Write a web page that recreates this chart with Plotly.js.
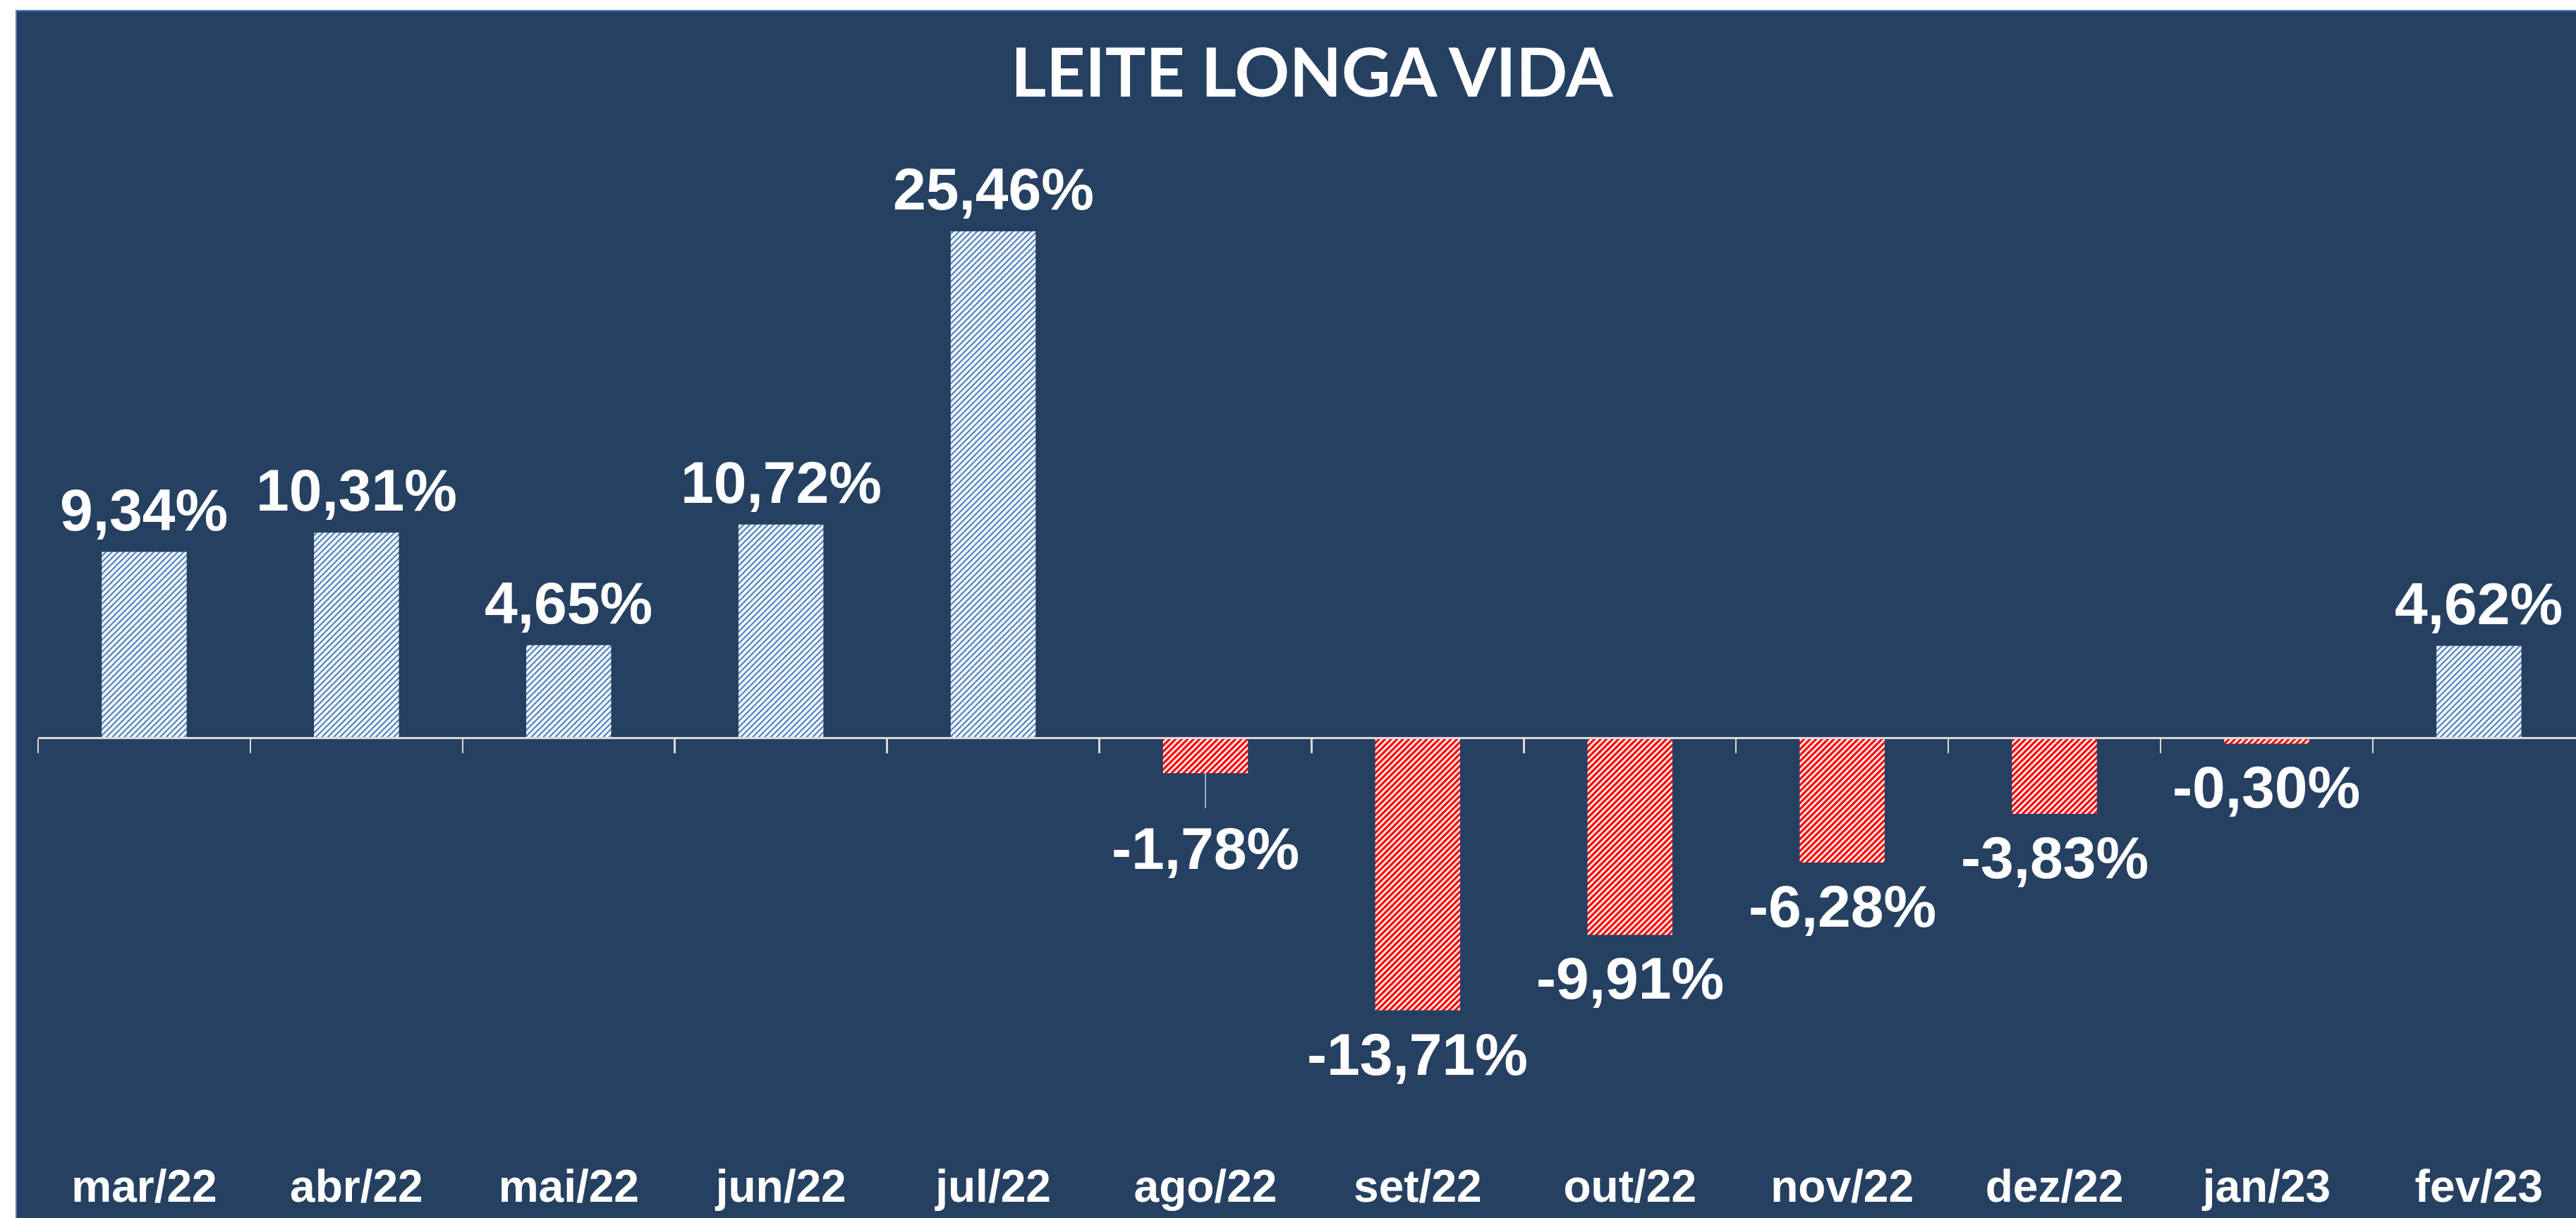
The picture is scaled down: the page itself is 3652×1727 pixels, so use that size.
<!DOCTYPE html>
<html>
<head>
<meta charset="utf-8">
<script src="https://cdn.plot.ly/plotly-3.0.1.min.js"></script>
<style>
  html, body { margin: 0; padding: 0; background: #ffffff; overflow: hidden; width: 3652px; height: 1727px; }
  #frame { position: absolute; left: 22px; top: 14px; width: 3640px; height: 1730px;
           border-left: 2px solid #5081BD; border-top: 2px solid #5081BD; background: #264061; }
  #chart { position: absolute; left: 0; top: 0; width: 3628px; height: 1711px; }
</style>
</head>
<body>
<div id="frame"><div id="chart"></div></div>
<script>
// ---- data ----
const chartTitle = "LEITE LONGA VIDA";
const months = ["mar/22","abr/22","mai/22","jun/22","jul/22","ago/22","set/22","out/22","nov/22","dez/22","jan/23","fev/23"];
const variation = [9.34, 10.31, 4.65, 10.72, 25.46, -1.78, -13.71, -9.91, -6.28, -3.83, -0.30, 4.62];

// ---- styles ----
const NAVY = "#264061";
const POS_COLOR = "#4F81BD";
const NEG_COLOR = "#FF0000";
const AXIS_COLOR = "#D9D9D9";
const LABEL_FONT = {family: "Liberation Sans, Arial, sans-serif", size: 84, color: "#FFFFFF", weight: "bold"};
const TICK_FONT = {family: "Liberation Sans, Arial, sans-serif", size: 64, color: "#FFFFFF", weight: "bold"};
const TITLE_FONT = {family: "Lato, Carlito, sans-serif", size: 96, color: "#FFFFFF", weight: "bold"};
const extraLabelShift = {"ago/22": -45}; // label moved away in the original (with leader line)

const W = 3628, H = 1711;
const yMin = -20, yMax = 30;
const marginL = 30, marginR = 0, marginT = 184, marginB = 117;
const catPx = 300.9;
const xMax = -0.5 + (W - marginL - marginR) / catPx;

const fmt = v => v.toFixed(2).replace(".", ",") + "%";

const barTrace = {
  type: "bar",
  x: months,
  y: variation,
  width: 0.4,
  marker: {
    color: "#FFFFFF",
    line: {width: 0},
    pattern: {
      shape: "/",
      fgcolor: variation.map(v => v >= 0 ? POS_COLOR : NEG_COLOR),
      bgcolor: "#FFFFFF",
      size: 6,
      solidity: variation.map(v => v >= 0 ? 0.38 : 0.55),
      fillmode: "replace"
    }
  },
  hoverinfo: "skip",
  showlegend: false
};

const annotations = months.map((m, i) => {
  const v = variation[i];
  const pos = v >= 0;
  return {
    x: m, y: v, xref: "x", yref: "y",
    text: fmt(v),
    showarrow: false,
    xanchor: "center",
    yanchor: pos ? "bottom" : "top",
    yshift: (pos ? 11 : -13) + (extraLabelShift[m] || 0),
    font: LABEL_FONT
  };
});

const shapes = months.filter(m => extraLabelShift[m]).map(m => {
  const i = months.indexOf(m);
  return {
    type: "line", xref: "x", yref: "y", ysizemode: "pixel",
    x0: m, x1: m, yanchor: variation[i], y0: 0, y1: -50,
    line: {color: "#8EB4E3", width: 2}
  };
});

const layout = {
  width: W, height: H,
  paper_bgcolor: NAVY,
  plot_bgcolor: "rgba(0,0,0,0)",
  margin: {l: marginL, r: marginR, t: marginT, b: marginB, pad: 0},
  title: {
    text: chartTitle,
    font: TITLE_FONT,
    xref: "container", x: 1836 / W, xanchor: "center",
    yref: "container", y: 1 - 87 / H, yanchor: "middle"
  },
  xaxis: {
    type: "category",
    range: [-0.5, xMax],
    anchor: "free",
    position: (0 - yMin) / (yMax - yMin),
    showline: true, linecolor: AXIS_COLOR, linewidth: 2.5,
    ticks: "outside", ticklen: 20, tickwidth: 2.5, tickcolor: AXIS_COLOR,
    tickson: "boundaries",
    showgrid: false, zeroline: false,
    tickfont: TICK_FONT,
    ticklabelstandoff: 580,
    automargin: false, fixedrange: true
  },
  yaxis: {
    range: [yMin, yMax],
    visible: false, showgrid: false, zeroline: false,
    automargin: false, fixedrange: true
  },
  annotations: annotations,
  shapes: shapes,
  showlegend: false
};

Plotly.newPlot("chart", [barTrace], layout, {staticPlot: true, displayModeBar: false});
</script>
</body>
</html>
